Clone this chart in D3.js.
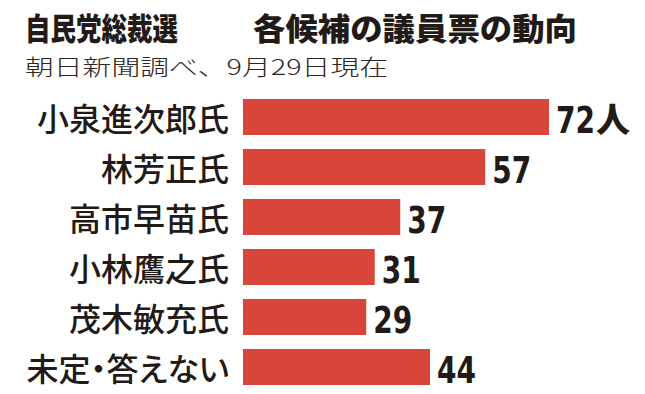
<!DOCTYPE html>
<html><head><meta charset="utf-8">
<script src="https://cdn.jsdelivr.net/npm/d3@7"></script>
<style>
html,body{margin:0;padding:0;background:#fff;}
svg{display:block;}
</style></head>
<body>
<svg id="chart" width="645" height="394"></svg>
<script>
const titleLeft = "自民党総裁選";
const titleRight = "各候補の議員票の動向";
const subtitle = "朝日新聞調べ、9月29日現在";
const categories = ["小泉進次郎氏","林芳正氏","高市早苗氏","小林鷹之氏","茂木敏充氏","未定・答えない"];
const values = [72, 57, 37, 31, 29, 44];
const unitLabel = "人";

const svg = d3.select("#chart");
const ink = "#221a16";
const barColor = "#d8463b";

const x = d3.scaleLinear().domain([0, 72]).range([243, 549]);
const y = d3.scaleBand().domain(categories).range([92, 392]).paddingInner(0.28).paddingOuter(0.14);

// Title
svg.append("text").attr("x", 25).attr("y", 40)
  .attr("font-family", "'Noto Sans CJK JP', sans-serif").attr("font-weight", 900)
  .attr("font-size", 31).attr("fill", ink)
  .attr("textLength", 153).attr("lengthAdjust", "spacingAndGlyphs")
  .text(titleLeft);
svg.append("text").attr("x", 253).attr("y", 40)
  .attr("font-family", "'Noto Sans CJK JP', sans-serif").attr("font-weight", 900)
  .attr("font-size", 31).attr("fill", ink)
  .attr("textLength", 324).attr("lengthAdjust", "spacingAndGlyphs")
  .text(titleRight);

// Subtitle
svg.append("text").attr("x", 25).attr("y", 75)
  .attr("font-family", "'Noto Sans CJK JP', sans-serif").attr("font-weight", 300)
  .attr("font-size", 22).attr("fill", "#2e2724")
  .attr("textLength", 363).attr("lengthAdjust", "spacingAndGlyphs")
  .text(subtitle);

const rows = svg.append("g").selectAll("g").data(categories).join("g");

rows.append("rect")
  .attr("x", x(0))
  .attr("y", d => y(d))
  .attr("width", (d, i) => x(values[i]) - x(0))
  .attr("height", y.bandwidth())
  .attr("fill", barColor);

rows.append("text")
  .attr("x", 229)
  .attr("y", d => y(d) + 32)
  .attr("text-anchor", "end")
  .attr("font-family", "'Noto Sans CJK JP', sans-serif")
  .attr("font-weight", 500)
  .attr("font-size", 32)
  .attr("fill", ink)
  .style("font-feature-settings", "'palt'")
  .text(d => d);

const sx = 0.82;
const vl = rows.append("text")
  .attr("transform", (d, i) => `translate(${x(values[i]) + 7},${y(d) + 34}) scale(${sx},1)`)
  .attr("font-family", "'DejaVu Sans Condensed', 'DejaVu Sans', sans-serif")
  .attr("font-weight", 700)
  .attr("font-size", 38)
  .attr("fill", ink)
  .text((d, i) => values[i]);

vl.each(function(d, i) {
  if (i !== 0) return;
  const w = this.getComputedTextLength() * sx;
  svg.append("text")
    .attr("x", x(values[i]) + 7 + w + 1)
    .attr("y", y(d) + 33)
    .attr("font-family", "'Noto Sans CJK JP', sans-serif")
    .attr("font-weight", 900)
    .attr("font-size", 34)
    .attr("fill", ink)
    .text(unitLabel);
});
</script>
</body></html>
